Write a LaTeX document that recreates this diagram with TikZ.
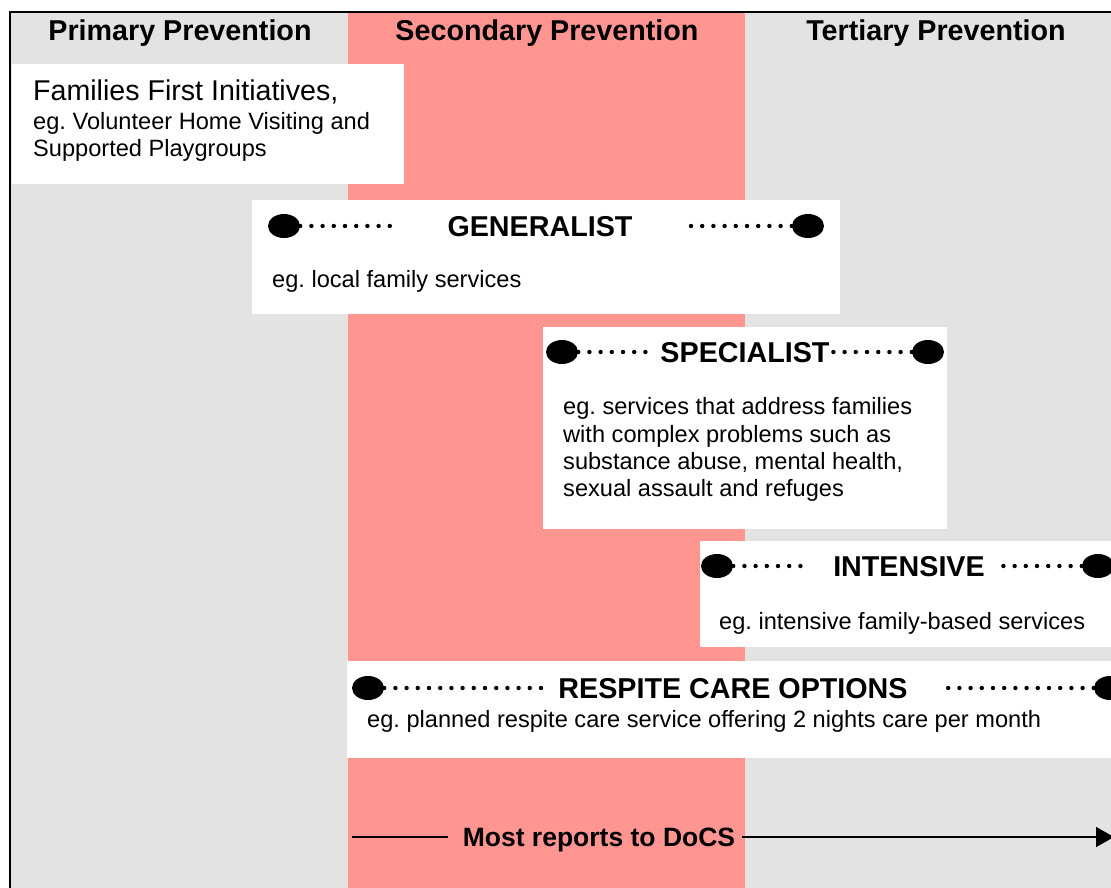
\documentclass[tikz,border=0pt]{standalone}
\usepackage{fontspec}
\setmainfont{Liberation Sans}
\usetikzlibrary{shapes.geometric,arrows.meta}
\frenchspacing

\definecolor{bandgray}{HTML}{E3E3E3}
\definecolor{bandpink}{HTML}{FF9591}

\tikzset{
  head/.style={font=\fontsize{28.7}{34}\selectfont\bfseries, anchor=base, inner sep=0pt},
  body/.style={font=\fontsize{23.6}{27}\selectfont, anchor=base west, inner sep=0pt},
  blob/.style={ellipse, fill=black, minimum width=32pt, minimum height=24pt, inner sep=0pt},
  dots/.style={line width=4.4pt, line cap=round, dash pattern=on 0pt off 11.2pt}
}

\begin{document}
\begin{tikzpicture}[x=1pt,y=-1pt]

    \clip (0,0) rectangle (1111,888);
    \fill[white] (0,0) rectangle (1111,888);

    % the three bands
    \fill[bandgray] (10,12) rectangle (348,900);
    \fill[bandpink] (348,12) rectangle (745,900);
    \fill[bandgray] (745,12) rectangle (1130,900);
    \draw[line width=2pt] (10,900) -- (10,12) -- (1130,12);

    \node[head] (prim) at (180,41) {Primary Prevention};
    \node[head] (sec)  at (547,41) {Secondary Prevention};
    \node[head] (tert) at (936,41) {Tertiary Prevention};

    % families first
    \fill[white] (12,64) rectangle (404,184);
    \node[body, font=\fontsize{28.6}{34}\selectfont] (ff) at (33,101) {Families First Initiatives,};
    \node[body] (ffa) at (33,130) {eg. Volunteer Home Visiting and};
    \node[body] (ffb) at (33,157) {Supported Playgroups};

    % generalist
    \fill[white] (252,200) rectangle (840,314);
    \node[blob] (genL) at (284,226) {};
    \node[blob] (genR) at (808,226) {};
    \node[head] (gen) at (540,236) {GENERALIST};
    \coordinate (genA) at (392,226);
    \coordinate (genB) at (688,226);
    \draw[dots] (genL.east) -- (genA);
    \draw[dots] (genR.west) -- (genB);
    \node[body] (genx) at (272,287) {eg. local family services};

    % specialist
    \fill[white] (543,327) rectangle (947,529);
    \node[blob] (spL) at (562,352) {};
    \node[blob] (spR) at (928,352) {};
    \node[head] (sp) at (745,362) {SPECIALIST};
    \coordinate (spA) at (648,352);
    \coordinate (spB) at (833,352);
    \draw[dots] (spL.east) -- (spA);
    \draw[dots] (spR.west) -- (spB);
    \node[body] (spa) at (563,414) {eg. services that address families};
    \node[body] (spb) at (563,442) {with complex problems such as};
    \node[body] (spc) at (563,469) {substance abuse, mental health,};
    \node[body] (spd) at (563,496) {sexual assault and refuges};

    % intensive
    \fill[white] (700,541) rectangle (1130,647);
    \node[blob] (inL) at (717,566) {};
    \node[blob] (inR) at (1098,566) {};
    \node[head] (in) at (909,576) {INTENSIVE};
    \coordinate (inA) at (809,566);
    \coordinate (inB) at (1001,566);
    \draw[dots] (inL.east) -- (inA);
    \draw[dots] (inR.west) -- (inB);
    \node[body] (inx) at (719,629) {eg. intensive family-based services};

    % respite care
    \fill[white] (347,661) rectangle (1130,758);
    \node[blob] (reL) at (368,688) {};
    \node[blob] (reR) at (1110,688) {};
    \node[head] (re) at (733,698) {RESPITE CARE OPTIONS};
    \coordinate (reA) at (541,688);
    \coordinate (reB) at (940,688);
    \draw[dots] (reL.east) -- (reA);
    \draw[dots] (reR.west) -- (reB);
    \node[body] (rex) at (367,727) {eg. planned respite care service offering 2 nights care per month};

    % reports
    \node[head, font=\fontsize{26.5}{32}\selectfont\bfseries] (docs) at (599,846) {Most reports to DoCS};
    \coordinate (docsS) at (352,837);
    \coordinate (docsE) at (1114,837);
    \draw[line width=1.5pt, shorten >=15pt] (docsS) -- (docs.west |- docsS);
    \draw[line width=1.5pt, shorten <=7pt, -{Triangle[length=18pt,width=20pt]}] (docs.east |- docsE) -- (docsE);

  \end{tikzpicture}
\end{document}
